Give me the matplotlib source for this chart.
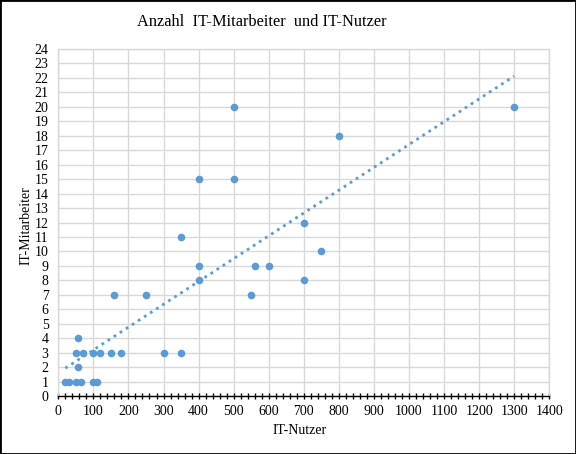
import numpy as np
import matplotlib
matplotlib.use("Agg")
import matplotlib.pyplot as plt
from matplotlib.ticker import MultipleLocator

# Data
it_nutzer = [1300, 800, 500, 400, 500, 350, 700, 750, 400, 560, 600, 400, 550, 700,
             160, 250,
             50, 70, 100, 120, 150, 180, 300, 350,
             20, 30, 50, 65, 100, 110,
             55, 55]
it_mitarbeiter = [20, 18, 20, 15, 15, 11, 12, 10, 9, 9, 9, 8, 7, 8,
                  7, 7,
                  3, 3, 3, 3, 3, 3, 3, 3,
                  1, 1, 1, 1, 1, 1,
                  2, 4]

title = "Anzahl  IT-Mitarbeiter  und IT-Nutzer"
xlabel = "IT-Nutzer"
ylabel = "IT-Mitarbeiter"

plt.rcParams['font.family'] = ['Liberation Serif', 'DejaVu Serif']

fig = plt.figure(figsize=(5.76, 4.54), dpi=100)
ax = fig.add_axes([58.3/576, 57.7/454, (549.3-58.3)/576, (396.3-48.7)/454])

blue = '#5B9BD5'
grid = '#D9D9D9'

x = np.array(it_nutzer, float)
y = np.array(it_mitarbeiter, float)

ax.scatter(x, y, s=30, color=blue, zorder=3, linewidths=0)

# linear trendline
m, b = np.polyfit(x, y, 1)
xt = np.array([x.min(), x.max()])
ax.plot(xt, m*xt + b, color=blue, linestyle=(0, (1, 1.6)), linewidth=2.0, zorder=2)

ax.set_xlim(0, 1400)
ax.set_ylim(0, 24)
ax.xaxis.set_major_locator(MultipleLocator(100))
ax.xaxis.set_minor_locator(MultipleLocator(20))
ax.yaxis.set_major_locator(MultipleLocator(1))

ax.grid(True, which='major', color=grid, linewidth=1.0, zorder=0)
ax.set_axisbelow(True)

for s in ['top', 'right', 'left']:
    ax.spines[s].set_color(grid)
    ax.spines[s].set_linewidth(1.0)
ax.spines['bottom'].set_color('black')
ax.spines['bottom'].set_linewidth(1.0)

ax.tick_params(axis='x', which='major', direction='inout', length=5, width=1,
               color='black', labelsize=10, pad=4)
ax.tick_params(axis='x', which='minor', direction='inout', length=5, width=1, color='black')
ax.tick_params(axis='y', which='major', length=0, labelsize=10, pad=7)

ax.set_xlabel(xlabel, fontsize=10)
ax.set_ylabel(ylabel, fontsize=10)
ax.xaxis.set_label_coords(0.492, -0.080)
ax.yaxis.set_label_coords(-0.0515, 0.49)

fig.text(0.455, 0.952, title, ha='center', va='center', fontsize=11.8)

# figure border
fig.patches.append(plt.Rectangle((0, 0), 1, 1, transform=fig.transFigure,
                                 fill=False, edgecolor='black', linewidth=2))

fig.savefig('out.png', dpi=100)
